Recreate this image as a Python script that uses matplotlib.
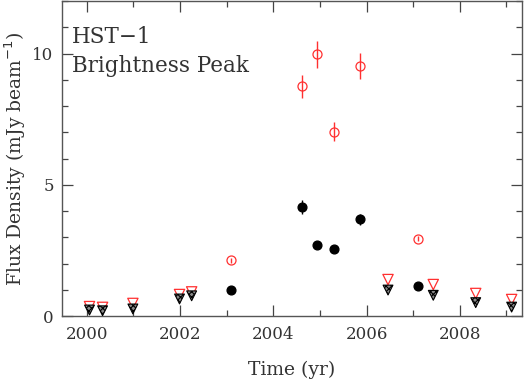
import matplotlib
matplotlib.use("Agg")
import matplotlib.pyplot as plt
from matplotlib.ticker import MultipleLocator

# Detections (red open circles) with errors
red_t = [2003.09, 2004.62, 2004.93, 2005.30, 2005.86, 2007.11]
red_f = [2.13, 8.75, 9.97, 7.02, 9.52, 2.95]
red_e = [0.10, 0.45, 0.50, 0.36, 0.50, 0.10]

# Detections (black filled circles) with errors
blk_t = [2003.09, 2004.62, 2004.93, 2005.30, 2005.86, 2007.11]
blk_f = [1.01, 4.15, 2.71, 2.57, 3.68, 1.14]
blk_e = [0.05, 0.26, 0.08, 0.08, 0.22, 0.06]

# Upper limits
lim_t = [2000.06, 2000.34, 2000.99, 2001.99, 2002.25, 2006.46, 2007.43, 2008.34, 2009.11]
lim_red = [0.36, 0.33, 0.48, 0.82, 0.92, 1.39, 1.20, 0.86, 0.63]
lim_blk = [0.23, 0.20, 0.27, 0.65, 0.77, 0.99, 0.79, 0.51, 0.34]

plt.rcParams['font.family'] = ['DejaVu Serif']
plt.rcParams['hatch.linewidth'] = 0.8

fig = plt.figure(figsize=(5.32, 3.84), dpi=100)
ax = fig.add_axes([0.1165, 0.177, 0.8645, 0.82])

red = '#ff3030'
ax.errorbar(red_t, red_f, yerr=red_e, fmt='o', mfc='none', mec=red, ecolor=red,
            ms=6.5, mew=0.9, elinewidth=1.0, capsize=0, zorder=3)
ax.errorbar(blk_t, blk_f, yerr=blk_e, fmt='o', color='black',
            ms=6.3, elinewidth=1.0, capsize=0, zorder=3)
ax.scatter(lim_t, lim_red, marker='v', s=55, facecolor='none', edgecolor=red,
           linewidths=0.9, zorder=3)
ax.scatter(lim_t, lim_blk, marker='v', s=50, facecolor='#888888', edgecolor='black',
           hatch='xxxxxx', linewidths=0.8, zorder=4)

ax.set_xlim(1999.47, 2009.33)
ax.set_ylim(0, 12.0)
ax.xaxis.set_major_locator(MultipleLocator(2))
ax.xaxis.set_minor_locator(MultipleLocator(1))
ax.yaxis.set_major_locator(MultipleLocator(5))
ax.yaxis.set_minor_locator(MultipleLocator(1))
ax.tick_params(which='both', direction='in', top=True, right=True, colors='#444444',
               labelcolor='#333333', labelsize=12)
ax.tick_params(axis='x', which='major', pad=7)
ax.tick_params(axis='y', which='major', pad=6)
ax.tick_params(which='major', length=8, width=0.9)
ax.tick_params(which='minor', length=4, width=0.9)
for s in ax.spines.values():
    s.set_color('#555555')
    s.set_linewidth(1.0)

ax.set_xlabel('Time (yr)', fontsize=13.5, color='#333333', labelpad=13)
ax.set_ylabel('Flux Density (mJy beam$^{-1}$)', fontsize=13.5, color='#333333')
ax.yaxis.set_label_coords(-0.074, 0.5)
ax.text(0.022, 0.92, 'HST\u22121\nBrightness Peak', transform=ax.transAxes,
        fontsize=15.5, va='top', ha='left', color='#333333', linespacing=1.4)

fig.savefig('out.png', dpi=100)
